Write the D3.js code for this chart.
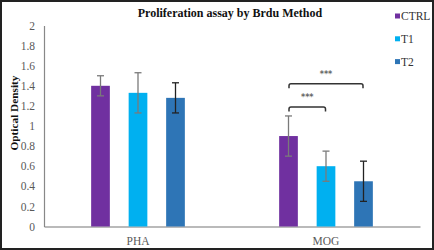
<!DOCTYPE html>
<html><head><meta charset="utf-8">
<script src="https://cdn.jsdelivr.net/npm/d3@7"></script>
<style>body{margin:0;background:#fff}svg{display:block}</style>
</head><body>
<script>
const categories = ["PHA", "MOG"];
const seriesNames = ["CTRL", "T1", "T2"];
const ctrlValues = [1.40, 0.90];
const t1Values = [1.33, 0.60];
const t2Values = [1.28, 0.45];
const ctrlErr = [0.10, 0.20];
const t1Err = [0.20, 0.15];
const t2Err = [0.15, 0.20];
const yTicks = [0, 0.2, 0.4, 0.6, 0.8, 1, 1.2, 1.4, 1.6, 1.8, 2];
const colors = ["#7030A0", "#00B0F0", "#2E75B6"];
const errColors = ["#7a7a7a", "#7a7a7a", "#222"];
const brackets = [
  {cat: "MOG", from: 0, to: 1, y: 1.19, label: "***"},
  {cat: "MOG", from: 0, to: 2, y: 1.42, label: "***"}
];

const W = 434, H = 250;
const svg = d3.select("body").append("svg").attr("width", W).attr("height", H);
svg.append("rect").attr("x", 1).attr("y", 1).attr("width", W - 2).attr("height", H - 2)
  .attr("fill", "#fff").attr("stroke", "#222").attr("stroke-width", 2);

const x = d3.scaleBand().domain(categories).range([44, 420]);
const y = d3.scaleLinear().domain([0, 2]).range([226.5, 25.5]);
const step = 37.5, bw = 18.7;
const font = "'Liberation Serif', 'Times New Roman', serif";

// y axis
const yAxis = svg.append("g").attr("transform", "translate(44,0)")
  .call(d3.axisLeft(y).tickValues(yTicks).tickSize(0).tickPadding(9).tickFormat(d3.format("~g")));
yAxis.select(".domain").attr("stroke", "#888").attr("stroke-width", 1.2);
yAxis.selectAll("text").attr("font-family", font).attr("font-size", 11.5).attr("fill", "#595959");

// x axis
const xAxis = svg.append("g").attr("transform", `translate(0,${y(0)})`)
  .call(d3.axisBottom(x).tickSize(0).tickPadding(10));
xAxis.select(".domain").attr("stroke", "#777").attr("stroke-width", 1.2);
xAxis.selectAll("text").attr("font-family", font).attr("font-size", 11.5).attr("fill", "#595959");

const series = [ctrlValues, t1Values, t2Values];
const errs = [ctrlErr, t1Err, t2Err];
const cx = (ci, si) => x(categories[ci]) + x.bandwidth() / 2 + (si - 1) * step;

series.forEach((vals, si) => {
  svg.append("g").selectAll("rect").data(vals).join("rect")
    .attr("x", (d, i) => cx(i, si) - bw / 2)
    .attr("y", d => y(d))
    .attr("width", bw)
    .attr("height", d => y(0) - y(d))
    .attr("fill", colors[si]);
});
series.forEach((vals, si) => {
  const g = svg.append("g").attr("stroke", errColors[si]).attr("stroke-width", 1.3);
  vals.forEach((v, i) => {
    const c = cx(i, si), e = errs[si][i];
    g.append("line").attr("x1", c).attr("x2", c).attr("y1", y(v + e)).attr("y2", y(v - e));
    g.append("line").attr("x1", c - 3.5).attr("x2", c + 3.5).attr("y1", y(v + e)).attr("y2", y(v + e));
    g.append("line").attr("x1", c - 3.5).attr("x2", c + 3.5).attr("y1", y(v - e)).attr("y2", y(v - e));
  });
});

// significance brackets
brackets.forEach(b => {
  const ci = categories.indexOf(b.cat);
  const x1 = cx(ci, b.from) + 0.5, x2 = cx(ci, b.to) - 0.5;
  const yy = y(b.y), h = 4.5, r = 2;
  svg.append("path")
    .attr("d", `M${x1},${yy + h} L${x1},${yy + r} Q${x1},${yy} ${x1 + r},${yy} L${x2 - r},${yy} Q${x2},${yy} ${x2},${yy + r} L${x2},${yy + h}`)
    .attr("fill", "none").attr("stroke", "#333").attr("stroke-width", 1.5);
  svg.append("text").attr("x", (x1 + x2) / 2).attr("y", yy - 7)
    .attr("text-anchor", "middle").attr("font-family", "'DejaVu Sans', sans-serif")
    .attr("font-size", 8).attr("fill", "#666").attr("font-weight", "bold").text(b.label);
});

// title
svg.append("text").attr("x", 230).attr("y", 17).attr("text-anchor", "middle")
  .attr("font-family", font).attr("font-weight", "bold").attr("font-size", 12)
  .attr("fill", "#111").text("Proliferation assay by Brdu Method");

// y label
svg.append("text").attr("transform", "translate(17.5,113) rotate(-90)").attr("text-anchor", "middle")
  .attr("font-family", font).attr("font-weight", "bold").attr("font-size", 11.3)
  .attr("fill", "#111").text("Optical Density");

// legend
const lg = svg.append("g");
seriesNames.forEach((n, i) => {
  const yy = 16 + i * 22.8;
  lg.append("rect").attr("x", 395).attr("y", yy - 2.5).attr("width", 5).attr("height", 5).attr("fill", colors[i]);
  lg.append("text").attr("x", 401).attr("y", yy + 4).attr("font-family", font)
    .attr("font-size", 11.5).attr("fill", "#333").text(n);
});
</script>
</body></html>
